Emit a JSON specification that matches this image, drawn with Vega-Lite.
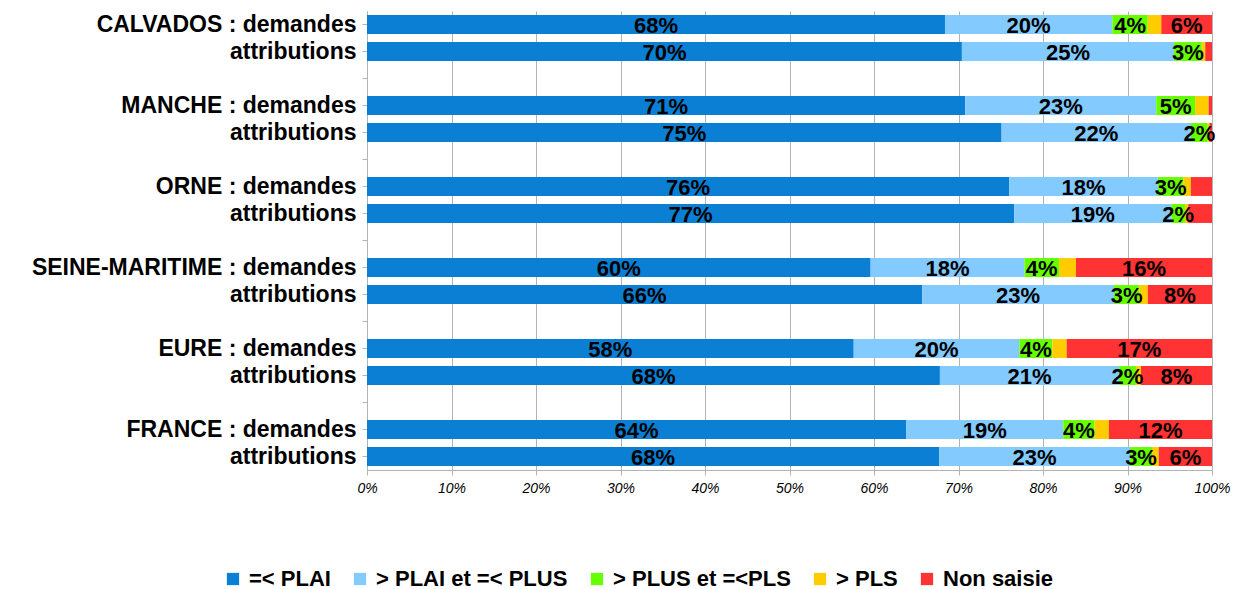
{
  "$schema": "https://vega.github.io/schema/vega-lite/v6.json",
  "width": 845,
  "height": 459,
  "autosize": {"type": "none"},
  "padding": {"left": 367, "top": 11, "right": 23, "bottom": 119},
  "background": "white",
  "config": {"font": "Liberation Sans", "view": {"stroke": null}},
  "data": {"values": [
    {"r": "CALVADOS : demandes", "s": "=< PLAI", "k": 1, "v": 0.684},
    {"r": "CALVADOS : demandes", "s": "> PLAI et =< PLUS", "k": 2, "v": 0.198},
    {"r": "CALVADOS : demandes", "s": "> PLUS et =<PLS", "k": 3, "v": 0.042},
    {"r": "CALVADOS : demandes", "s": "> PLS", "k": 4, "v": 0.016},
    {"r": "CALVADOS : demandes", "s": "Non saisie", "k": 5, "v": 0.060},
    {"r": "CALVADOS|attributions", "s": "=< PLAI", "k": 1, "v": 0.704},
    {"r": "CALVADOS|attributions", "s": "> PLAI et =< PLUS", "k": 2, "v": 0.251},
    {"r": "CALVADOS|attributions", "s": "> PLUS et =<PLS", "k": 3, "v": 0.033},
    {"r": "CALVADOS|attributions", "s": "> PLS", "k": 4, "v": 0.004},
    {"r": "CALVADOS|attributions", "s": "Non saisie", "k": 5, "v": 0.008},
    {"r": "MANCHE : demandes", "s": "=< PLAI", "k": 1, "v": 0.708},
    {"r": "MANCHE : demandes", "s": "> PLAI et =< PLUS", "k": 2, "v": 0.226},
    {"r": "MANCHE : demandes", "s": "> PLUS et =<PLS", "k": 3, "v": 0.046},
    {"r": "MANCHE : demandes", "s": "> PLS", "k": 4, "v": 0.016},
    {"r": "MANCHE : demandes", "s": "Non saisie", "k": 5, "v": 0.004},
    {"r": "MANCHE|attributions", "s": "=< PLAI", "k": 1, "v": 0.751},
    {"r": "MANCHE|attributions", "s": "> PLAI et =< PLUS", "k": 2, "v": 0.224},
    {"r": "MANCHE|attributions", "s": "> PLUS et =<PLS", "k": 3, "v": 0.020},
    {"r": "MANCHE|attributions", "s": "> PLS", "k": 4, "v": 0.002},
    {"r": "MANCHE|attributions", "s": "Non saisie", "k": 5, "v": 0.003},
    {"r": "ORNE : demandes", "s": "=< PLAI", "k": 1, "v": 0.760},
    {"r": "ORNE : demandes", "s": "> PLAI et =< PLUS", "k": 2, "v": 0.176},
    {"r": "ORNE : demandes", "s": "> PLUS et =<PLS", "k": 3, "v": 0.030},
    {"r": "ORNE : demandes", "s": "> PLS", "k": 4, "v": 0.009},
    {"r": "ORNE : demandes", "s": "Non saisie", "k": 5, "v": 0.025},
    {"r": "ORNE|attributions", "s": "=< PLAI", "k": 1, "v": 0.766},
    {"r": "ORNE|attributions", "s": "> PLAI et =< PLUS", "k": 2, "v": 0.186},
    {"r": "ORNE|attributions", "s": "> PLUS et =<PLS", "k": 3, "v": 0.016},
    {"r": "ORNE|attributions", "s": "> PLS", "k": 4, "v": 0.004},
    {"r": "ORNE|attributions", "s": "Non saisie", "k": 5, "v": 0.028},
    {"r": "SEINE-MARITIME : demandes", "s": "=< PLAI", "k": 1, "v": 0.596},
    {"r": "SEINE-MARITIME : demandes", "s": "> PLAI et =< PLUS", "k": 2, "v": 0.182},
    {"r": "SEINE-MARITIME : demandes", "s": "> PLUS et =<PLS", "k": 3, "v": 0.041},
    {"r": "SEINE-MARITIME : demandes", "s": "> PLS", "k": 4, "v": 0.020},
    {"r": "SEINE-MARITIME : demandes", "s": "Non saisie", "k": 5, "v": 0.161},
    {"r": "SEINE-MARITIME|attributions", "s": "=< PLAI", "k": 1, "v": 0.657},
    {"r": "SEINE-MARITIME|attributions", "s": "> PLAI et =< PLUS", "k": 2, "v": 0.227},
    {"r": "SEINE-MARITIME|attributions", "s": "> PLUS et =<PLS", "k": 3, "v": 0.030},
    {"r": "SEINE-MARITIME|attributions", "s": "> PLS", "k": 4, "v": 0.010},
    {"r": "SEINE-MARITIME|attributions", "s": "Non saisie", "k": 5, "v": 0.076},
    {"r": "EURE : demandes", "s": "=< PLAI", "k": 1, "v": 0.576},
    {"r": "EURE : demandes", "s": "> PLAI et =< PLUS", "k": 2, "v": 0.196},
    {"r": "EURE : demandes", "s": "> PLUS et =<PLS", "k": 3, "v": 0.039},
    {"r": "EURE : demandes", "s": "> PLS", "k": 4, "v": 0.017},
    {"r": "EURE : demandes", "s": "Non saisie", "k": 5, "v": 0.172},
    {"r": "EURE|attributions", "s": "=< PLAI", "k": 1, "v": 0.678},
    {"r": "EURE|attributions", "s": "> PLAI et =< PLUS", "k": 2, "v": 0.212},
    {"r": "EURE|attributions", "s": "> PLUS et =<PLS", "k": 3, "v": 0.020},
    {"r": "EURE|attributions", "s": "> PLS", "k": 4, "v": 0.006},
    {"r": "EURE|attributions", "s": "Non saisie", "k": 5, "v": 0.084},
    {"r": "FRANCE : demandes", "s": "=< PLAI", "k": 1, "v": 0.638},
    {"r": "FRANCE : demandes", "s": "> PLAI et =< PLUS", "k": 2, "v": 0.186},
    {"r": "FRANCE : demandes", "s": "> PLUS et =<PLS", "k": 3, "v": 0.037},
    {"r": "FRANCE : demandes", "s": "> PLS", "k": 4, "v": 0.017},
    {"r": "FRANCE : demandes", "s": "Non saisie", "k": 5, "v": 0.122},
    {"r": "FRANCE|attributions", "s": "=< PLAI", "k": 1, "v": 0.677},
    {"r": "FRANCE|attributions", "s": "> PLAI et =< PLUS", "k": 2, "v": 0.226},
    {"r": "FRANCE|attributions", "s": "> PLUS et =<PLS", "k": 3, "v": 0.026},
    {"r": "FRANCE|attributions", "s": "> PLS", "k": 4, "v": 0.008},
    {"r": "FRANCE|attributions", "s": "Non saisie", "k": 5, "v": 0.063}
  ]},
  "encoding": {
    "y": {
      "field": "r", "type": "nominal", "title": null,
      "scale": {
        "domain": ["CALVADOS : demandes", "CALVADOS|attributions", "gap1", "MANCHE : demandes", "MANCHE|attributions", "gap2", "ORNE : demandes", "ORNE|attributions", "gap3", "SEINE-MARITIME : demandes", "SEINE-MARITIME|attributions", "gap4", "EURE : demandes", "EURE|attributions", "gap5", "FRANCE : demandes", "FRANCE|attributions"],
        "paddingInner": 0.3, "paddingOuter": 0.15
      },
      "axis": {
        "labelExpr": "indexof(datum.value, 'gap') === 0 ? '' : (indexof(datum.value, '|') >= 0 ? 'attributions' : datum.value)",
        "labelFontSize": 23, "labelFontWeight": "bold", "labelColor": "#000000", "labelPadding": 6,
        "tickColor": "#b3b3b3", "tickSize": 5, "domainColor": "#b3b3b3", "labelLimit": 400
      }
    }
  },
  "layer": [
    {
      "mark": {"type": "bar"},
      "encoding": {
        "x": {
          "field": "v", "type": "quantitative", "stack": "normalize", "title": null,
          "axis": {
            "format": ".0%", "values": [0, 0.1, 0.2, 0.3, 0.4, 0.5, 0.6, 0.7, 0.8, 0.9, 1],
            "labelFontSize": 14, "labelFontStyle": "italic", "labelColor": "#000000", "labelFlush": false,
            "gridColor": "#b3b3b3", "tickColor": "#b3b3b3", "domainColor": "#b3b3b3", "tickSize": 5, "labelPadding": 6
          }
        },
        "color": {
          "field": "s", "type": "nominal",
          "scale": {
            "domain": ["=< PLAI", "> PLAI et =< PLUS", "> PLUS et =<PLS", "> PLS", "Non saisie"],
            "range": ["#0a7fd4", "#83caff", "#66ff00", "#ffcc00", "#ff3333"]
          },
          "legend": {
            "title": null, "orient": "none", "direction": "horizontal",
            "legendX": -145, "legendY": 557,
            "symbolType": "square", "symbolSize": 150, "symbolStrokeWidth": 0,
            "labelFontSize": 22, "labelFontWeight": "bold", "labelColor": "#000000",
            "labelOffset": 5, "columnPadding": 18, "labelLimit": 400
          }
        },
        "order": {"field": "k"}
      }
    },
    {
      "mark": {"type": "text", "fontSize": 22, "fontWeight": "bold", "color": "#000000", "dy": 1},
      "encoding": {
        "x": {"field": "v", "type": "quantitative", "stack": "normalize", "bandPosition": 0.5},
        "text": {"field": "v", "type": "quantitative", "format": ".0%"},
        "order": {"field": "k"},
        "opacity": {"condition": {"test": "datum.s == '> PLS' || (datum.s == 'Non saisie' && datum.v < 0.05)", "value": 0}, "value": 1}
      }
    }
  ]
}
